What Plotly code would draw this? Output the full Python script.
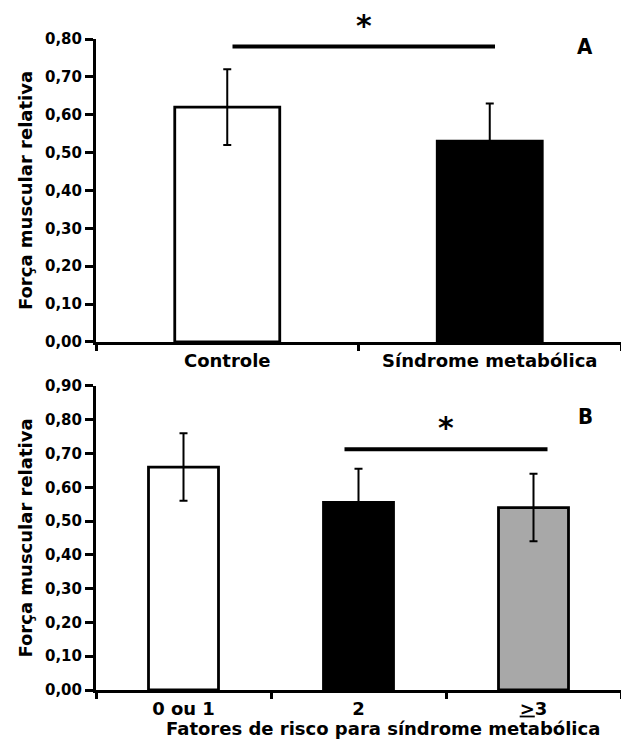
import plotly.graph_objects as go
from plotly.subplots import make_subplots

# ---- data ----
cats_a = ["Controle", "Síndrome metabólica"]
vals_a = [0.62, 0.53]
err_a = [0.10, 0.10]
colors_a = ["white", "black"]
sig_a_x = [0.02, 1.02]
sig_a_y = 0.78

cats_b = ["0 ou 1", "2", "<u>&gt;</u>3"]
vals_b = [0.66, 0.555, 0.54]
err_b = [0.10, 0.10, 0.10]
colors_b = ["white", "black", "#a8a8a8"]
sig_b_x = [0.92, 2.08]
sig_b_y = 0.713

yticks_a = [0.0, 0.1, 0.2, 0.3, 0.4, 0.5, 0.6, 0.7, 0.8]
yticks_b = [0.0, 0.1, 0.2, 0.3, 0.4, 0.5, 0.6, 0.7, 0.8, 0.9]

y_title = "Força muscular relativa"
x_title_b = "Fatores de risco para síndrome metabólica"

FONT = "DejaVu Sans"

fig = make_subplots(rows=2, cols=1)

fig.add_trace(go.Bar(
    x=cats_a, y=vals_a, width=0.40,
    marker=dict(color=colors_a, line=dict(color="black", width=2.8)),
    error_y=dict(type="data", array=err_a, visible=True, color="black",
                 thickness=2, width=4),
    showlegend=False), row=1, col=1)

fig.add_trace(go.Bar(
    x=cats_b, y=vals_b, width=0.40,
    marker=dict(color=colors_b, line=dict(color="black", width=2.8)),
    error_y=dict(type="data", array=err_b, visible=True, color="black",
                 thickness=2, width=4),
    showlegend=False), row=2, col=1)

axis_common = dict(showline=True, linecolor="black", linewidth=3,
                   ticks="outside", tickcolor="black", tickwidth=2.5,
                   showgrid=False, zeroline=False, automargin=False)

fig.update_xaxes(**axis_common, type="category", tickson="boundaries",
                 ticklen=6,
                 tickfont=dict(family=FONT, size=18, color="black", weight="bold"))
fig.update_xaxes(range=[-0.5, 1.5], domain=[0, 1], row=1, col=1)
fig.update_xaxes(range=[-0.5, 2.5], domain=[0, 1], row=2, col=1)

fig.update_yaxes(**axis_common, ticklen=8, tickformat=".2f",
                 tickfont=dict(family=FONT, size=15, color="black", weight="bold"),
                 title=dict(text=y_title, standoff=8,
                            font=dict(family=FONT, size=18, color="black", weight="bold")))
fig.update_yaxes(range=[0, 0.8], tickvals=yticks_a, domain=[0.5346, 1.0], row=1, col=1)
fig.update_yaxes(range=[0, 0.9], tickvals=yticks_b, domain=[0.0, 0.467], row=2, col=1)

# significance lines
fig.add_shape(type="line", xref="x", yref="y", x0=sig_a_x[0], x1=sig_a_x[1],
              y0=sig_a_y, y1=sig_a_y, line=dict(color="black", width=4))
fig.add_shape(type="line", xref="x2", yref="y2", x0=sig_b_x[0], x1=sig_b_x[1],
              y0=sig_b_y, y1=sig_b_y, line=dict(color="black", width=4))

fig.add_annotation(x=(sig_a_x[0] + sig_a_x[1]) / 2, y=sig_a_y, xref="x", yref="y",
                   text="*", showarrow=False, yanchor="bottom", yshift=2,
                   font=dict(family=FONT, size=30, color="black", weight="bold"))
fig.add_annotation(x=(sig_b_x[0] + sig_b_x[1]) / 2, y=sig_b_y, xref="x2", yref="y2",
                   text="*", showarrow=False, yanchor="bottom", yshift=2,
                   font=dict(family=FONT, size=30, color="black", weight="bold"))

# page has an 8px body margin: figure coords = page coords - 8
OFF = 8
W, H = 621, 738
L, T = 96 - OFF, 39 - OFF
R = W - (621 - OFF)
B = H - (690 - OFF)
pw, ph = W - L - R, H - T - B

def to_paper(px, py):
    return ((px - OFF - L) / pw, (H - B - (py - OFF)) / ph)

for letter, px, py in (("A", 595, 32), ("B", 595, 417)):
    xx, yy = to_paper(px, py)
    fig.add_annotation(x=xx, y=yy, xref="paper", yref="paper",
                       text=letter, showarrow=False,
                       font=dict(family="Liberation Sans Narrow, DejaVu Sans Condensed",
                                 size=22, color="black", weight="bold"))

xx, yy = to_paper(383, 728)
fig.add_annotation(x=xx, y=yy, xref="paper", yref="paper",
                   text=x_title_b, showarrow=False, yanchor="middle",
                   font=dict(family=FONT, size=18, color="black", weight="bold"))

fig.update_layout(width=W, height=H, separators=",.",
                  margin=dict(l=L, r=R, t=T, b=B, autoexpand=False),
                  plot_bgcolor="white", paper_bgcolor="white",
                  bargap=0.6)

fig.write_html("out.html")
